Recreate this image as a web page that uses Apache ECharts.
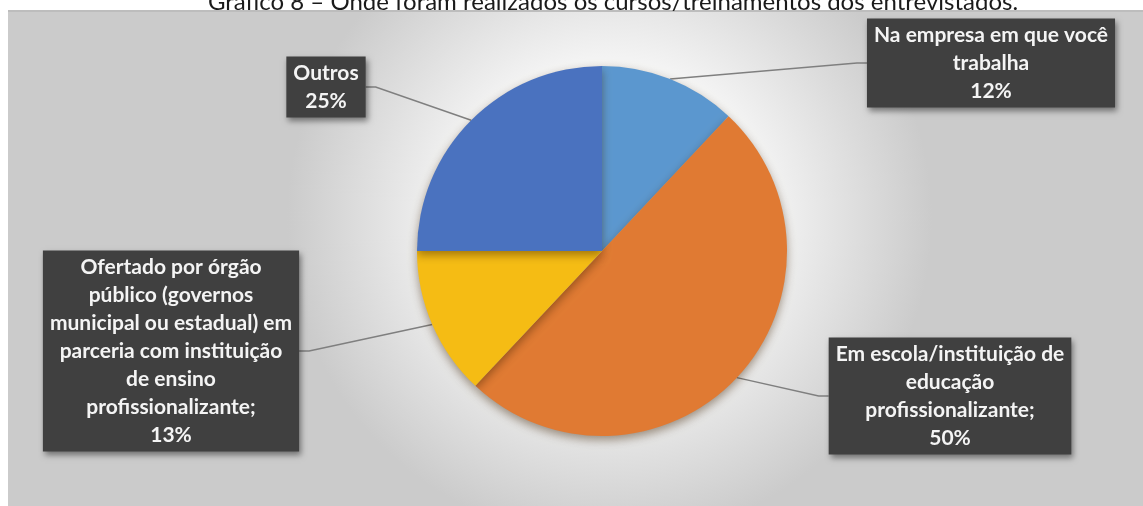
<!DOCTYPE html>
<html>
<head>
<meta charset="utf-8">
<script src="https://cdn.jsdelivr.net/npm/echarts@6/dist/echarts.min.js"></script>
<style>
html,body{margin:0;padding:0;background:#ffffff;}
#chart{width:1143px;height:506px;}
</style>
</head>
<body>
<div id="chart"></div>
<script>
var titleText = 'Gráfico 8 – Onde foram realizados os cursos/treinamentos dos entrevistados.';
var categories = [
  'Na empresa em que você\ntrabalha',
  'Em escola/instituição de\neducação\nprofissionalizante;',
  'Ofertado por órgão\npúblico (governos\nmunicipal ou estadual) em\nparceria com instituição\nde ensino\nprofissionalizante;',
  'Outros'
];
var values = [12, 50, 13, 25];
var colors = ['#5B97CF', '#E07A33', '#F5BC14', '#4A72BF'];
// label box centres (layout only)
var labelCenters = [[991, 63], [950, 396], [171, 351], [326, 87]];

var chart = echarts.init(document.getElementById('chart'));
var data = categories.map(function (c, i) {
  return { name: c, value: values[i], itemStyle: { color: colors[i] } };
});

chart.setOption({
  animation: false,
  title: {
    text: titleText,
    left: 608,
    textAlign: 'center',
    top: -15,
    textStyle: { fontFamily: 'Lato', fontWeight: 'normal', fontSize: 24, color: '#1a1a1a' }
  },
  graphic: [{
    type: 'rect',
    z: -10,
    silent: true,
    shape: { x: 8, y: 10, width: 1135, height: 496 },
    style: {
      fill: {
        type: 'radial', x: 0.53, y: 0.42, r: 0.65,
        colorStops: [
          { offset: 0, color: '#ffffff' },
          { offset: 0.5, color: '#f3f3f3' },
          { offset: 1, color: '#cbcbcb' }
        ]
      }
    }
  }, {
    type: 'rect',
    z: -9,
    silent: true,
    shape: { x: 8, y: 10, width: 1135, height: 2 },
    style: { fill: '#bdbdbd' }
  }],
  series: [{
    type: 'pie',
    center: [602, 251],
    radius: 185,
    startAngle: 90,
    clockwise: true,
    data: data,
    itemStyle: {
      shadowColor: 'rgba(60,30,0,0.45)',
      shadowBlur: 10,
      shadowOffsetY: 4
    },
    label: {
      show: true,
      position: 'outside',
      formatter: function (p) { return p.name + '\n' + p.value + '%'; },
      fontFamily: 'Lato',
      fontWeight: 'bold',
      fontSize: 21,
      lineHeight: 28,
      color: '#f4f4f4',
      align: 'center',
      backgroundColor: '#404040',
      padding: [3, 7, 2, 7],
      shadowColor: 'rgba(0,0,0,0.45)',
      shadowBlur: 6,
      shadowOffsetX: 2,
      shadowOffsetY: 3
    },
    labelLine: {
      show: true,
      length: 10,
      length2: 10,
      lineStyle: { color: '#7f7f7f', width: 1.5 }
    },
    labelLayout: function (p) {
      var c = labelCenters[p.dataIndex];
      return { x: c[0], y: c[1], align: 'center', verticalAlign: 'middle' };
    }
  }]
});
</script>
</body>
</html>
